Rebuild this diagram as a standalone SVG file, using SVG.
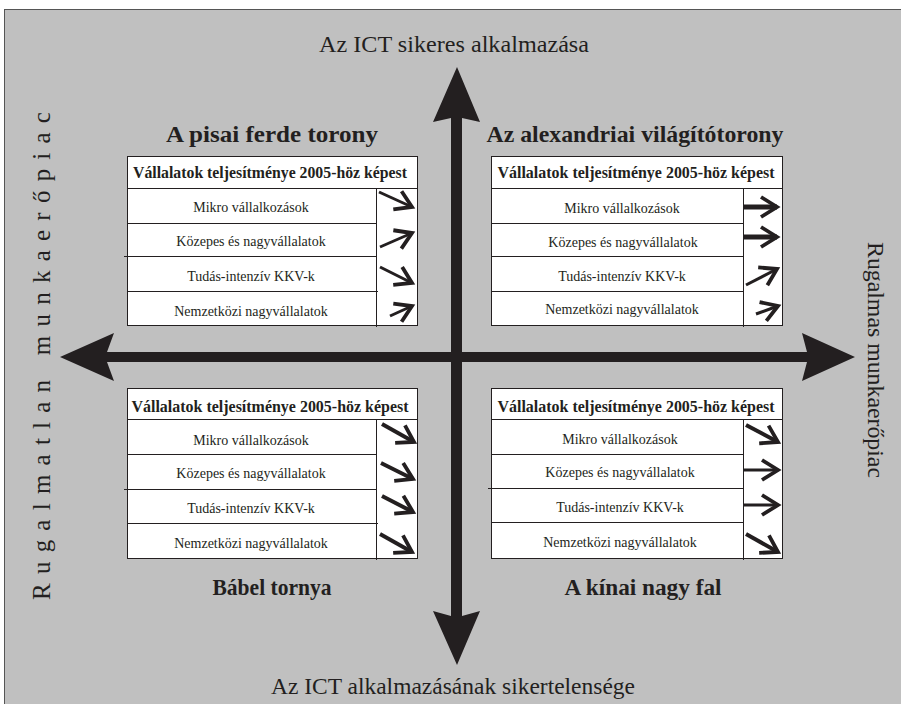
<svg xmlns="http://www.w3.org/2000/svg" width="901" height="704" viewBox="0 0 901 704">
<style>
.frame{fill:#c0c0c0;stroke:#555;stroke-width:1}
.tbl{fill:#fff;stroke:#231f20;stroke-width:1}
.ln{stroke:#231f20;stroke-width:1;fill:none}
text{font-family:"Liberation Serif","Tinos","DejaVu Serif","Noto Serif","Times New Roman",serif;fill:#231f20}
.hdr{font-weight:bold;font-size:16px;text-anchor:middle}
.row{font-size:14px;text-anchor:middle}
.ttl{font-weight:bold;font-size:24px;text-anchor:middle}
.lab{font-size:23px;text-anchor:middle}
.axis{fill:#231f20}
.ar{stroke:#231f20;stroke-width:3;fill:none}
.ark{stroke:#231f20;stroke-width:4;fill:none}
.art{stroke:#231f20;stroke-width:5;fill:none}
</style>
<defs>
<marker id="vh" markerUnits="userSpaceOnUse" markerWidth="40" markerHeight="40" refX="0" refY="0" viewBox="-25 -20 40 40" orient="auto" overflow="visible">
<path d="M-16,-10 L0,0 L-16,10" fill="none" stroke="#231f20" stroke-width="3.8"/>
</marker>
</defs>
<rect class="frame" x="4.5" y="9.5" width="910" height="710"/>

<g id="axes">
<polygon class="axis" points="457,67 480,122 462,118 462,616 480,611 457,665 433,611 451,616 451,118 433,122"/>
<polygon class="axis" points="60,357 114,333 107,352 807,352 802,333 855,357 802,381 807,362 107,362 114,381"/>
</g>

<g id="label-top"><text class="lab" x="454" y="52" textLength="270" lengthAdjust="spacingAndGlyphs">Az ICT sikeres alkalmazása</text></g>
<g id="label-bottom"><text class="lab" x="453" y="694" textLength="364" lengthAdjust="spacingAndGlyphs">Az ICT alkalmazásának sikertelensége</text></g>
<g id="label-left"><text class="lab" style="font-size:25px" transform="translate(50,356) rotate(-90)" x="0" y="0" textLength="488" lengthAdjust="spacing">Rugalmatlan munkaerőpiac</text></g>
<g id="label-right"><text class="lab" transform="translate(868,360) rotate(90)" x="0" y="0" textLength="236" lengthAdjust="spacingAndGlyphs">Rugalmas munkaerőpiac</text></g>

<g id="q-tl">
<text class="ttl" x="272" y="142" textLength="212" lengthAdjust="spacingAndGlyphs">A pisai ferde torony</text>
<rect class="tbl" x="127.5" y="156.5" width="290" height="169"/>
<path class="ln" d="M127,188.5H418M127,223.5H376.5M124,256.5H376.5M127,291.5H378M376.5,188V327"/>
<text class="hdr" x="270" y="178" textLength="274" lengthAdjust="spacingAndGlyphs">Vállalatok teljesítménye 2005-höz képest</text>
<text class="row" x="251" y="212">Mikro vállalkozások</text>
<text class="row" x="251" y="246">Közepes és nagyvállalatok</text>
<text class="row" x="251" y="281">Tudás-intenzív KKV-k</text>
<text class="row" x="251" y="316">Nemzetközi nagyvállalatok</text>
<line class="ar" x1="379" y1="192" x2="412" y2="207" marker-end="url(#vh)"/>
<line class="ar" x1="380" y1="247" x2="412" y2="233" marker-end="url(#vh)"/>
<line class="ar" x1="380" y1="267" x2="412" y2="283" marker-end="url(#vh)"/>
<line class="ar" x1="390" y1="316" x2="412" y2="306" marker-end="url(#vh)"/>
</g>

<g id="q-tr">
<text class="ttl" x="635" y="142" textLength="297" lengthAdjust="spacingAndGlyphs">Az alexandriai világítótorony</text>
<rect class="tbl" x="491.5" y="156.5" width="291" height="169"/>
<path class="ln" d="M491,188.5H783M491,223.5H743.5M491,256.5H743.5M491,291.5H743.5M743.5,188V327"/>
<text class="hdr" x="636" y="178" textLength="277" lengthAdjust="spacingAndGlyphs">Vállalatok teljesítménye 2005-höz képest</text>
<text class="row" x="622" y="213">Mikro vállalkozások</text>
<text class="row" x="623" y="247">Közepes és nagyvállalatok</text>
<text class="row" x="622" y="281">Tudás-intenzív KKV-k</text>
<text class="row" x="622" y="314">Nemzetközi nagyvállalatok</text>
<line class="art" x1="744" y1="207" x2="777" y2="207" marker-end="url(#vh)"/>
<line class="art" x1="744" y1="237" x2="777" y2="237" marker-end="url(#vh)"/>
<line class="ar" x1="746" y1="285" x2="777" y2="269" marker-end="url(#vh)"/>
<line class="ar" x1="756" y1="314" x2="778" y2="306" marker-end="url(#vh)"/>
</g>

<g id="q-bl">
<text class="ttl" x="272" y="595" textLength="119" lengthAdjust="spacingAndGlyphs">Bábel tornya</text>
<rect class="tbl" x="127.5" y="388.5" width="290" height="170"/>
<path class="ln" d="M127,419.5H418M127,454.5H376.5M124,489.5H376.5M127,523.5H378M376.5,419V560"/>
<text class="hdr" x="270" y="412" textLength="277" lengthAdjust="spacingAndGlyphs">Vállalatok teljesítménye 2005-höz képest</text>
<text class="row" x="251" y="445">Mikro vállalkozások</text>
<text class="row" x="251" y="478">Közepes és nagyvállalatok</text>
<text class="row" x="251" y="513">Tudás-intenzív KKV-k</text>
<text class="row" x="251" y="548">Nemzetközi nagyvállalatok</text>
<line class="ark" x1="382" y1="424" x2="414" y2="442" marker-end="url(#vh)"/>
<line class="ark" x1="381" y1="463" x2="413" y2="479" marker-end="url(#vh)"/>
<line class="ark" x1="382" y1="496" x2="413" y2="512" marker-end="url(#vh)"/>
<line class="ark" x1="380" y1="534" x2="412" y2="552" marker-end="url(#vh)"/>
</g>

<g id="q-br">
<text class="ttl" x="643" y="595" textLength="157" lengthAdjust="spacingAndGlyphs">A kínai nagy fal</text>
<rect class="tbl" x="491.5" y="388.5" width="291" height="170"/>
<path class="ln" d="M491,419.5H783M491,454.5H743.5M488,488.5H743.5M491,522.5H743.5M743.5,419V560"/>
<text class="hdr" x="636" y="412" textLength="277" lengthAdjust="spacingAndGlyphs">Vállalatok teljesítménye 2005-höz képest</text>
<text class="row" x="620" y="444">Mikro vállalkozások</text>
<text class="row" x="620" y="477">Közepes és nagyvállalatok</text>
<text class="row" x="620" y="512">Tudás-intenzív KKV-k</text>
<text class="row" x="620" y="547">Nemzetközi nagyvállalatok</text>
<line class="ark" x1="746" y1="425" x2="778" y2="442" marker-end="url(#vh)"/>
<line class="ar" x1="744" y1="470" x2="778" y2="470" marker-end="url(#vh)"/>
<line class="ar" x1="744" y1="505" x2="778" y2="505" marker-end="url(#vh)"/>
<line class="ark" x1="746" y1="534" x2="778" y2="552" marker-end="url(#vh)"/>
</g>
</svg>
